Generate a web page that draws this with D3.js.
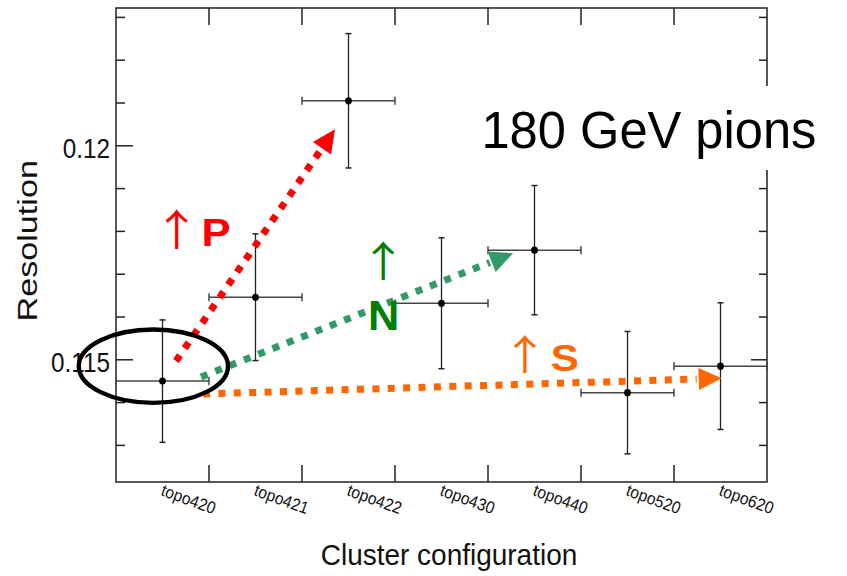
<!DOCTYPE html>
<html><head><meta charset="utf-8">
<script src="https://cdn.jsdelivr.net/npm/d3@7"></script>
<style>html,body{margin:0;padding:0;background:#fff;}svg{display:block;font-family:"Liberation Sans",Arial,Helvetica,sans-serif;}</style>
</head><body><svg id="c" width="847" height="576"></svg>
<script>
// ---------------- data ----------------
const categories = ["topo420","topo421","topo422","topo430","topo440","topo520","topo620"];
const resolution = [0.11449, 0.11645, 0.12104, 0.11631, 0.11755, 0.11422, 0.11484];
const resolutionErr = [0.00143, 0.00148, 0.00157, 0.00153, 0.00151, 0.00143, 0.00148];
const yMajorTicks = [0.115, 0.12];
const yMajorLabels = ["0.115", "0.12"];
const yMinorTicks = [0.113, 0.114, 0.116, 0.117, 0.118, 0.119, 0.121, 0.122, 0.123];
const yDomain = [0.112133, 0.123208];
const titleText = "180 GeV pions";
const xTitle = "Cluster configuration";
const yTitle = "Resolution";
// annotation arrows, in data coordinates [fractional category index, resolution]
const arrowNames = ["P", "N", "S"];
const arrowFrom = [[0.1452, 0.11496], [0.4140, 0.114586], [0.4355, 0.114189]];
const arrowTo = [[1.8548, 0.120374], [3.7688, 0.117477], [6.0129, 0.114556]];
// "↑" glyph boxes: [centre index, top value, bottom value]
const upGlyph = [[0.1527, 0.118505, 0.117570], [2.3742, 0.117748, 0.116836], [3.8978, 0.115568, 0.114673]];
// letter boxes: [left index, right index, top value, bottom value]
const letterBox = [[0.4462, 0.7183, 0.118294, 0.117647], [2.2387, 2.5183, 0.116386, 0.115685], [4.1849, 4.4602, 0.115340, 0.114720]];
// highlighted reference point ellipse: [centre index, centre value, half width (index), half height (value)]
const ellipseSpec = [-0.0978, 0.114839, 0.8022, 0.000857];

// ---------------- styles ----------------
const lineColors = ["#ff0000", "#339966", "#ff6600"];
const textColors = ["#ff0000", "#008000", "#ff6600"];
const ink = "#222";
const FONT = "'Liberation Sans', Arial, sans-serif";

const svg = d3.select("#c");
const x = d3.scaleBand().domain(categories).range([116, 767]).paddingInner(0).paddingOuter(0);
const bw = x.bandwidth();
const xc = c => x(c) + bw / 2;
const xf = i => x.range()[0] + (i + 0.5) * bw;
const y = d3.scaleLinear().domain(yDomain).range([482, 8]);
const [L, R] = x.range();
const T = y.range()[1], B = y.range()[0];

// canvas for ink metrics
const ctx = document.createElement("canvas").getContext("2d");
function inkOf(txt, weight, family, size) {
  ctx.font = `${weight} ${size}px ${family}`;
  const m = ctx.measureText(txt);
  return {asc: m.actualBoundingBoxAscent, desc: m.actualBoundingBoxDescent, l: m.actualBoundingBoxLeft, r: m.actualBoundingBoxRight};
}
// fit text ink into box [x0,x1]x[top,bottom]
function fitText(g, txt, weight, family, x0, x1, top, bottom, color) {
  const m = inkOf(txt, weight, family, 100);
  const size = 100 * (bottom - top) / (m.asc + m.desc);
  const k = size / 100;
  const sx = (x1 - x0) / ((m.l + m.r) * k);
  const baseline = top + m.asc * k;
  const xo = x0 + m.l * k * sx;
  g.append("text").text(txt)
    .attr("transform", `translate(${xo},${baseline}) scale(${sx},1)`)
    .attr("font-family", family).attr("font-weight", weight)
    .attr("font-size", size).attr("fill", color);
}

// frame
svg.append("rect").attr("x", L).attr("y", T).attr("width", R - L).attr("height", B - T)
  .attr("fill", "none").attr("stroke", ink).attr("stroke-width", 1.5);

// y axes (ticks inward)
function yAxis(gen, values, size) {
  const g = svg.append("g").call(gen.scale(y).tickValues(values).tickSize(size).tickFormat(""));
  g.select(".domain").remove();
  g.selectAll("line").attr("stroke", ink).attr("stroke-width", 1.5);
  return g;
}
yAxis(d3.axisLeft(), yMinorTicks, -9).attr("transform", `translate(${L},0)`);
const gMaj = yAxis(d3.axisLeft(), yMajorTicks, -17).attr("transform", `translate(${L},0)`);
gMaj.selectAll(".tick text").data(yMajorLabels).text(d => d)
  .attr("x", null).attr("dy", null)
  .attr("transform", "translate(-6,12) scale(0.9,1)")
  .attr("text-anchor", "end").attr("font-family", FONT).attr("font-size", 27).attr("fill", "#111");
yAxis(d3.axisRight(), yMinorTicks, -8).attr("transform", `translate(${R},0)`);
yAxis(d3.axisRight(), yMajorTicks, -16).attr("transform", `translate(${R},0)`);

// x bin-edge ticks (top and bottom, inward)
const edges = categories.slice(1).map(c => x(c));
svg.append("g").selectAll("line").data(edges).join("line")
  .attr("x1", d => d).attr("x2", d => d).attr("y1", B).attr("y2", B - 17)
  .attr("stroke", ink).attr("stroke-width", 1.5);
svg.append("g").selectAll("line").data(edges).join("line")
  .attr("x1", d => d).attr("x2", d => d).attr("y1", T).attr("y2", T + 17)
  .attr("stroke", ink).attr("stroke-width", 1.5);

// x labels
const gx = svg.append("g").attr("transform", `translate(0,${B})`).call(d3.axisBottom(x).tickSize(0));
gx.select(".domain").remove();
gx.selectAll(".tick text").attr("y", null).attr("dy", null)
  .attr("transform", "translate(-2.5,13) rotate(20) scale(0.92,1)").attr("text-anchor", "start")
  .attr("font-family", FONT).attr("font-size", 17).attr("fill", "#111");

// axis titles
svg.append("text").text(xTitle).attr("transform", "translate(449,565) scale(0.965,1)")
  .attr("text-anchor", "middle").attr("font-family", FONT).attr("font-size", 29).attr("fill", "#111");
svg.append("text").text(yTitle).attr("transform", "translate(36.5,240.8) rotate(-90) scale(1.22,1)")
  .attr("text-anchor", "middle").attr("font-family", FONT).attr("font-size", 28).attr("fill", "#111");

// error bars and points
const pts = categories.map((c, i) => ({c, v: resolution[i], e: resolutionErr[i]}));
const ge = svg.append("g").attr("stroke-width", 1.5);
ge.selectAll(".h").data(pts).join("line").attr("stroke", "#444")
  .attr("x1", d => x(d.c)).attr("x2", d => x(d.c) + bw).attr("y1", d => y(d.v)).attr("y2", d => y(d.v));
ge.selectAll(".hc").data(pts.flatMap(d => [[x(d.c), y(d.v)], [x(d.c) + bw, y(d.v)]])).join("line").attr("stroke", "#444")
  .attr("x1", d => d[0]).attr("x2", d => d[0]).attr("y1", d => d[1] - 4).attr("y2", d => d[1] + 4);
ge.selectAll(".v").data(pts).join("line").attr("stroke", ink).attr("stroke-width", 1.3)
  .attr("x1", d => xc(d.c)).attr("x2", d => xc(d.c)).attr("y1", d => y(d.v + d.e)).attr("y2", d => y(d.v - d.e));
ge.selectAll(".vc").data(pts.flatMap(d => [[xc(d.c), y(d.v + d.e)], [xc(d.c), y(d.v - d.e)]])).join("line").attr("stroke", ink)
  .attr("x1", d => d[0] - 3).attr("x2", d => d[0] + 3).attr("y1", d => d[1]).attr("y2", d => d[1]);
svg.append("g").selectAll("ellipse").data(pts).join("ellipse")
  .attr("cx", d => xc(d.c)).attr("cy", d => y(d.v)).attr("rx", 3.4).attr("ry", 3.6).attr("fill", "#000");

// dotted arrows
const ga = svg.append("g");
arrowFrom.forEach((f, k) => {
  const p0 = [xf(f[0]), y(f[1])], p1 = [xf(arrowTo[k][0]), y(arrowTo[k][1])];
  const dx = p1[0] - p0[0], dy = p1[1] - p0[1], len = Math.hypot(dx, dy), ux = dx / len, uy = dy / len;
  const hl = 23, hw = 11;
  const bx = p1[0] - ux * hl, by = p1[1] - uy * hl;
  ga.append("line").attr("x1", p0[0]).attr("y1", p0[1]).attr("x2", bx - ux * 2).attr("y2", by - uy * 2)
    .attr("stroke", lineColors[k]).attr("stroke-width", 7).attr("stroke-dasharray", "7 8.4");
  ga.append("path").attr("d", `M${p1[0]},${p1[1]}L${bx - uy * hw},${by + ux * hw}L${bx + uy * hw},${by - ux * hw}Z`)
    .attr("fill", lineColors[k]);
});

// arrow labels
const gl = svg.append("g");
upGlyph.forEach((u, k) => {
  const cx = xf(u[0]), w = 22.5;
  fitText(gl, "↑", 400, "'Noto Sans CJK JP'", cx - w / 2, cx + w / 2, y(u[1]), y(u[2]), textColors[k]);
  const b = letterBox[k];
  fitText(gl, arrowNames[k], 700, FONT, xf(b[0]), xf(b[1]), y(b[2]), y(b[3]), textColors[k]);
});

// ellipse around reference configuration
const ecx = xf(ellipseSpec[0]), ecy = y(ellipseSpec[1]);
svg.append("ellipse").attr("cx", ecx).attr("cy", ecy)
  .attr("rx", xf(ellipseSpec[0] + ellipseSpec[2]) - ecx).attr("ry", y(ellipseSpec[1] - ellipseSpec[3]) - ecy)
  .attr("fill", "none").attr("stroke", "#000").attr("stroke-width", 4.4);

// title box
svg.append("rect").attr("x", 470).attr("y", 86).attr("width", 377).attr("height", 84).attr("fill", "#fff");
(function () {
  const m = inkOf(titleText, 400, FONT, 100);
  const size = 100 * (148.3 - 110) / m.asc, k = size / 100;
  const sx = (815 - 485) / ((m.l + m.r) * k);
  svg.append("text").text(titleText)
    .attr("transform", `translate(${485 + m.l * k * sx},148.3) scale(${sx},1)`)
    .attr("font-family", FONT).attr("font-size", size).attr("fill", "#000");
})();
</script></body></html>
